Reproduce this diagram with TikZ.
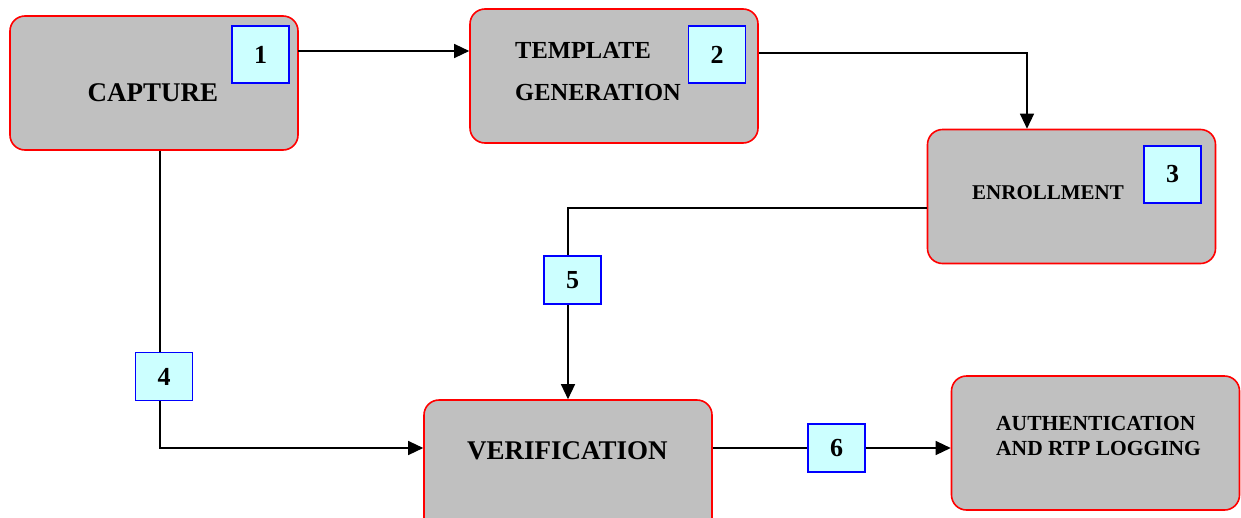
\documentclass[tikz,border=0pt]{standalone}
\usepackage{fontspec}
\setmainfont{Liberation Serif}
\usetikzlibrary{arrows.meta,calc}
\definecolor{stagegray}{RGB}{192,192,192}
\definecolor{tagcyan}{RGB}{204,255,255}
\tikzset{
  stage/.style={draw=red, line width=1.6pt, fill=stagegray, rounded corners=15pt,
    minimum width=288pt, minimum height=134pt, inner sep=0pt},
  tag/.style={draw=blue, line width=1.6pt, fill=tagcyan, inner sep=0pt,
    minimum width=57pt, minimum height=57pt, font=\fontsize{26}{26}\selectfont\bfseries},
  smalltag/.style={tag, minimum height=48pt},
  caption/.style={inner sep=0pt, font=\bfseries},
  flow/.style={line width=1.3pt, draw=black},
  arrowflow/.style={flow, -{Triangle[length=15pt,width=14pt]}}
}
\begin{document}
\begin{tikzpicture}[x=1pt,y=-1pt]
\clip (0,0) rectangle (1241,517);
\useasboundingbox (0,0) rectangle (1241,517);

% stages
\node[stage] (capture) at (154,83) {};
\node[stage] (template) at (614,76) {};
\node[stage] (enroll) at (1071.5,196.5) {};
\node[stage] (verif) at (568,467) {};
\node[stage] (auth) at (1095.5,443) {};

% stage captions
\node[caption, font=\fontsize{27}{27}\selectfont\bfseries] (captureText) at (153,93) {CAPTURE};
\node[caption, anchor=base west, font=\fontsize{24.5}{24.5}\selectfont\bfseries] (templateTextA) at (515,58) {TEMPLATE};
\node[caption, anchor=base west, font=\fontsize{24.5}{24.5}\selectfont\bfseries] (templateTextB) at (515,100) {GENERATION};
\node[caption, anchor=base west, font=\fontsize{21}{21}\selectfont\bfseries] (enrollText) at (972,199) {ENROLLMENT};
\node[caption, anchor=base west, font=\fontsize{27}{27}\selectfont\bfseries] (verifText) at (467,459) {VERIFICATION};
\node[caption, anchor=base west, font=\fontsize{21.5}{21.5}\selectfont\bfseries] (authTextA) at (996,430) {AUTHENTICATION};
\node[caption, anchor=base west, font=\fontsize{21.5}{21.5}\selectfont\bfseries] (authTextB) at (996,455) {AND RTP LOGGING};

% step numbers
\node[tag] (n1) at (260.5,54.5) {1};
\node[tag] (n2) at (717,54.5) {2};
\node[tag] (n3) at (1172.5,174.5) {3};
\node[smalltag] (n4) at (164,376.5) {4};
\node[smalltag] (n5) at (572.5,280) {5};
\node[smalltag] (n6) at (836.5,448) {6};

% routing points
\coordinate (r1) at (298,51);
\coordinate (r2) at (1027,53);
\coordinate (r4) at (160,448);
\coordinate (r5) at (568,208);

% connectors
\draw[arrowflow] (r1) -- (r1 -| template.west);
\draw[arrowflow] (template.east |- r2) -- (r2) -- (r2 |- enroll.north);
\draw[flow] (enroll.west |- r5) -- (r5) -- (r5 |- n5.north);
\draw[arrowflow] (r5 |- n5.south) -- (verif.north);
\draw[flow] (capture.south -| r4) -- (n4.north -| r4);
\draw[arrowflow] (n4.south -| r4) -- (r4) -- (r4 -| verif.west);
\draw[flow] (verif.east |- n6) -- (n6.west);
\draw[arrowflow] (n6.east) -- (n6 -| auth.west);
\end{tikzpicture}
\end{document}
